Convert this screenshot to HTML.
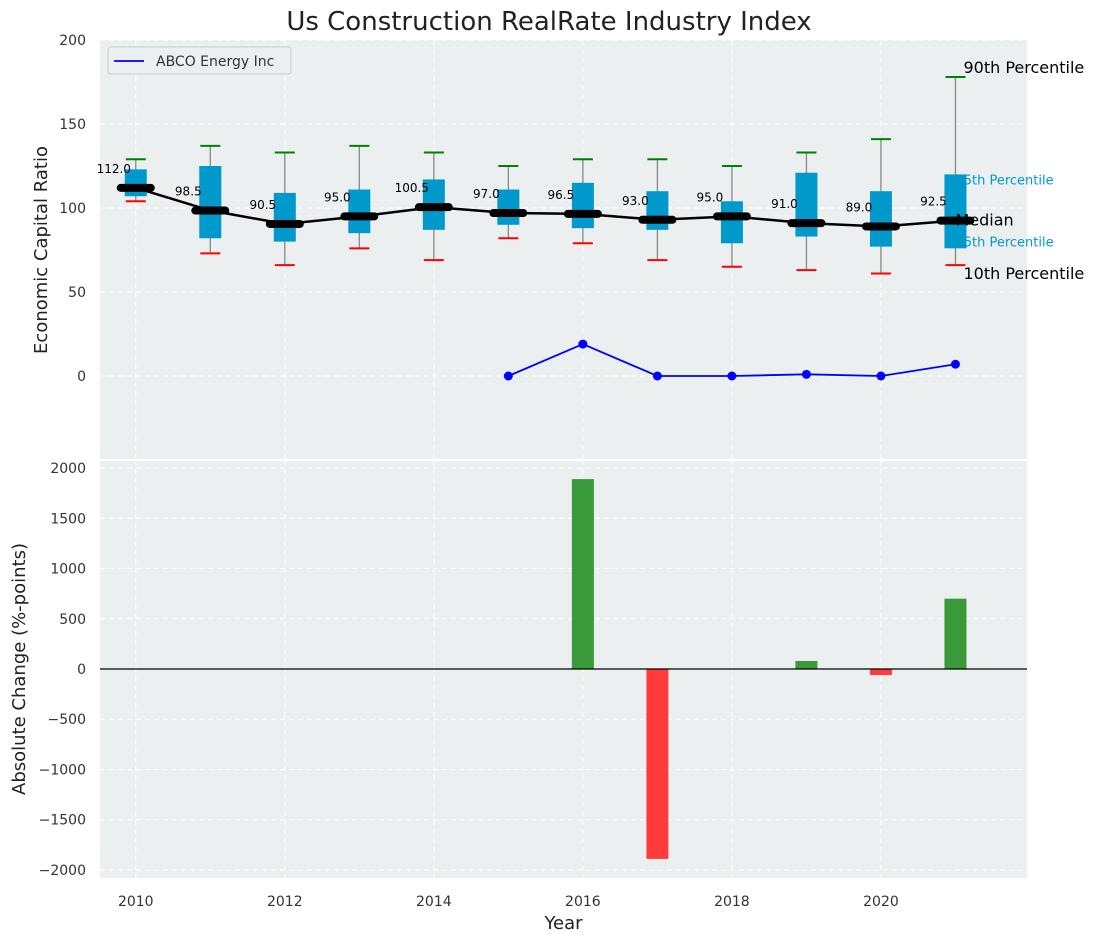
<!DOCTYPE html>
<html><head><meta charset="utf-8"><style>
body{margin:0;background:#fff;font-family:"Liberation Sans","DejaVu Sans",sans-serif}
svg text{font-family:"DejaVu Sans","Liberation Sans",sans-serif}
</style></head><body>
<svg id="c" width="1098" height="942" xmlns="http://www.w3.org/2000/svg"></svg>
<script>
const years=[2010,2011,2012,2013,2014,2015,2016,2017,2018,2019,2020,2021];
const medians=[112,98.5,90.5,95,100.5,97,96.5,93,95,91,89,92.5];
const q25=[107,82,80,85,87,90,88,87,79,83,77,76];
const q75=[123,125,109,111,117,111,115,110,104,121,110,120];
const p10=[104,73,66,76,69,82,79,69,65,63,61,66];
const p90=[129,137,133,137,133,125,129,129,125,133,141,178];
const compYears=[2015,2016,2017,2018,2019,2020,2021];
const compVals=[0,19,0,0,1,0,7];
const chgYears=[2016,2017,2018,2019,2020,2021];
const chgVals=[1890,-1890,0,80,-60,700];
const topTicks=[0,50,100,150,200];
const botTicks=[-2000,-1500,-1000,-500,0,500,1000,1500,2000];
const xTicks=[2010,2012,2014,2016,2018,2020];

const svg=document.getElementById('c');
const NS='http://www.w3.org/2000/svg';
function mk(t,a,p){const e=document.createElementNS(NS,t);for(const k in a)e.setAttribute(k,a[k]);(p||svg).appendChild(e);return e;}
const L=100,R=1027;
const x=v=>L+(v-2009.52)/(2021.96-2009.52)*(R-L);
const T0=40,T1=460,yT=v=>T0+(200-v)/250*(T1-T0);
const B0=460,B1=878,yB=v=>B0+(2080-v)/4160*(B1-B0);

let e;
e=mk('text',{x:549,y:30,'text-anchor':'middle','font-size':26,fill:'#222'});e.textContent='Us Construction RealRate Industry Index';

e=mk('rect',{x:L,y:T0,width:R-L,height:T1-T0-1,fill:'#ebeff0'});

e=mk('rect',{x:L,y:B0+1,width:R-L,height:B1-B0-1,fill:'#ebeff0'});

for(const t of topTicks){const yy=yT(t);mk('line',{x1:L,x2:R,y1:yy,y2:yy,stroke:'#fff','stroke-dasharray':'5,4','stroke-width':1});
 e=mk('text',{x:L-14,y:yy+5,'text-anchor':'end','font-size':14,fill:'#333'});e.textContent=t;
 }
for(const t of botTicks){const yy=yB(t);mk('line',{x1:L,x2:R,y1:yy,y2:yy,stroke:'#fff','stroke-dasharray':'5,4','stroke-width':1});
 e=mk('text',{x:L-14,y:yy+5,'text-anchor':'end','font-size':14,fill:'#333'});e.textContent=t<0?'\u2212'+(-t):t;
 }
for(const t of xTicks){const xx=x(t);
 mk('line',{x1:xx,x2:xx,y1:T0,y2:T1,stroke:'#fff','stroke-dasharray':'5,4'});
 mk('line',{x1:xx,x2:xx,y1:B0,y2:B1,stroke:'#fff','stroke-dasharray':'5,4'});
 e=mk('text',{x:xx,y:B1+28,'text-anchor':'middle','font-size':14,fill:'#333'});e.textContent=t;
 }
const lx=x(2021);
// cyan annotations drawn before boxes (partly hidden)
e=mk('text',{x:lx,y:yT(q75[11])+10,'font-size':13,fill:'#0099cc'});e.textContent='75th Percentile';

e=mk('text',{x:lx,y:yT(q25[11])-2,'font-size':13,fill:'#0099cc'});e.textContent='25th Percentile';

years.forEach((yr,i)=>{const xx=x(yr),hw=11;
 mk('line',{x1:xx,x2:xx,y1:yT(p90[i]),y2:yT(p10[i]),stroke:'#888','stroke-width':1.3});
 e=mk('rect',{x:xx-hw,y:yT(q75[i]),width:2*hw,height:yT(q25[i])-yT(q75[i]),fill:'#0099cc'});
 
 mk('line',{x1:xx-10,x2:xx+10,y1:yT(p90[i]),y2:yT(p90[i]),stroke:'green','stroke-width':2});
 mk('line',{x1:xx-10,x2:xx+10,y1:yT(p10[i]),y2:yT(p10[i]),stroke:'red','stroke-width':2});
});
e=mk('polyline',{points:years.map((yr,i)=>x(yr)+','+yT(medians[i])).join(' '),fill:'none',stroke:'#000','stroke-width':2.5});

years.forEach((yr,i)=>{const xx=x(yr),yy=yT(medians[i]);
 e=mk('line',{x1:xx-15,x2:xx+15,y1:yy,y2:yy,stroke:'#000','stroke-width':8,'stroke-linecap':'round'});
 
 e=mk('text',{x:xx-22,y:yy-15,'text-anchor':'middle','font-size':12,fill:'#000'});e.textContent=medians[i].toFixed(1);
 
});
e=mk('polyline',{points:compYears.map((yr,i)=>x(yr)+','+yT(compVals[i])).join(' '),fill:'none',stroke:'blue','stroke-width':1.8});

compYears.forEach((yr,i)=>{e=mk('circle',{cx:x(yr),cy:yT(compVals[i]),r:4.5,fill:'blue'});
 });
e=mk('text',{x:lx+8,y:yT(p90[11])-4,'font-size':16,fill:'#000'});e.textContent='90th Percentile';

e=mk('text',{x:lx,y:yT(medians[11])+5,'font-size':16,fill:'#000'});e.textContent='Median';

e=mk('text',{x:lx+8,y:yT(p10[11])+14,'font-size':16,fill:'#000'});e.textContent='10th Percentile';

e=mk('rect',{x:108,y:47,width:183,height:27,fill:'#ebeff0',stroke:'#ccc',rx:3});

mk('line',{x1:114,x2:144,y1:61,y2:61,stroke:'blue','stroke-width':1.8});
e=mk('text',{x:156,y:66,'font-size':14,fill:'#333'});e.textContent='ABCO Energy Inc';

chgYears.forEach((yr,i)=>{const v=chgVals[i];const y0=yB(0),y1=yB(v);
 e=mk('rect',{x:x(yr)-11,y:Math.min(y0,y1),width:22,height:Math.abs(y1-y0),fill:v>=0?'#3a9a3a':'#ff3b3b'});
 });
mk('line',{x1:L,x2:R,y1:yB(0),y2:yB(0),stroke:'#000','stroke-width':1.2});
e=mk('text',{x:0,y:0,'font-size':18,fill:'#222','text-anchor':'middle',transform:`translate(47,${(T0+T1)/2}) rotate(-90)`});e.textContent='Economic Capital Ratio';

e=mk('text',{x:0,y:0,'font-size':18,fill:'#222','text-anchor':'middle',transform:`translate(25,${(B0+B1)/2}) rotate(-90)`});e.textContent='Absolute Change (%-points)';

e=mk('text',{x:(L+R)/2,y:929,'font-size':18,fill:'#222','text-anchor':'middle'});e.textContent='Year';

</script>
</body></html>
